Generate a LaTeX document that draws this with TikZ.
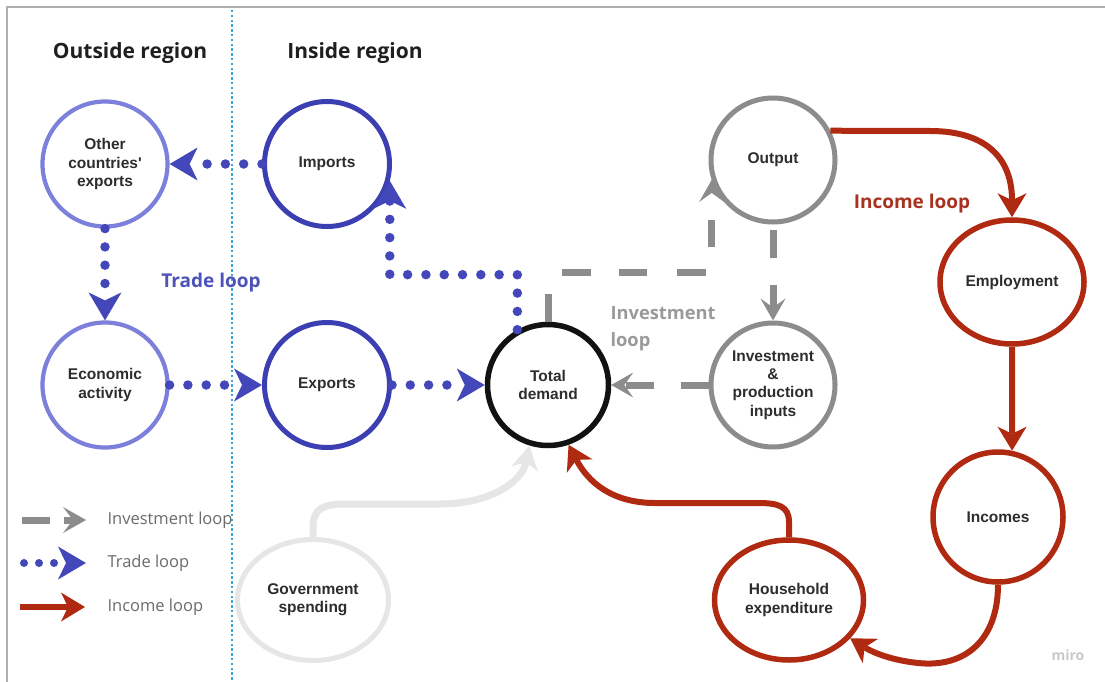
\documentclass[tikz,border=0pt]{standalone}
\usepackage{fontspec}
\setmainfont{Liberation Sans}
\newfontfamily\nodefont{Liberation Sans}
\newfontfamily\osans{Open Sans}
\usetikzlibrary{arrows.meta,shapes.geometric}
\definecolor{dblue}{HTML}{3B3FB1}
\definecolor{lblue}{HTML}{7C80DA}
\definecolor{tblue}{HTML}{4347B9}
\definecolor{igray}{HTML}{8C8C8C}
\definecolor{ired}{HTML}{B02A12}
\definecolor{govc}{HTML}{E6E6E6}
\definecolor{divc}{HTML}{3DA3DB}
\definecolor{txt}{HTML}{2D2D2D}
\definecolor{tradetxt}{HTML}{4C52B8}
\definecolor{inctxt}{HTML}{A83220}
\definecolor{invtxt}{HTML}{9A9A9A}
\definecolor{legtxt}{HTML}{6B6B6B}
\definecolor{miroc}{HTML}{C8C8C8}
\definecolor{framec}{HTML}{B0B0B0}
\begin{document}
\begin{tikzpicture}[x=1pt,y=-1pt,
  circ/.style={circle,draw,minimum size=125pt,inner sep=0pt,line width=5pt,
    font=\nodefont\bfseries\fontsize{15.5}{18.3}\selectfont,text=txt,align=center},
  ell/.style={ellipse,draw,inner sep=0pt,line width=5.5pt,
    font=\nodefont\bfseries\fontsize{15.5}{18.3}\selectfont,text=txt,align=center},
  heading/.style={font=\osans\bfseries\fontsize{21}{25}\selectfont,text=black!88},
  looplabel/.style={font=\osans\bfseries\fontsize{19}{27}\selectfont},
  legtext/.style={font=\osans\fontsize{16.5}{20}\selectfont,text=legtxt,anchor=west},
  tradeline/.style={draw=tblue,line width=9.5pt,line cap=round,dash pattern=on 0pt off 18.3pt,
    -{Stealth[length=28pt,width=33pt,inset=8pt,line width=0pt]}},
  invline/.style={draw=igray,line width=7pt,dash pattern=on 28pt off 27pt,
    -{Stealth[length=22pt,width=25pt,inset=9pt,line width=0pt]}},
  incline/.style={draw=ired,line width=6pt,
    -{Stealth[length=24pt,width=29pt,inset=7pt,line width=0pt]}},
  govline/.style={draw=govc,line width=7pt,
    -{Stealth[length=24pt,width=27pt,inset=7pt,line width=0pt]}}
]
\useasboundingbox (0,0) rectangle (1105,682);
\fill[white] (0,0) rectangle (1105,682);
% frame (top and left only)
\draw[framec,line width=1.5pt] (7,682) -- (7,7) -- (1105,7);
% divider
\draw[divc,line width=2.6pt,dash pattern=on 2.4pt off 2.4pt] (232,10) -- (232,682);

% headings
\node[heading] (h1) at (130,53) {Outside region};
\node[heading] (h2) at (355,53) {Inside region};

% nodes
\node[circ,draw=lblue,line width=4.2pt] (oth) at (105,164) {Other\\countries'\\exports};
\node[circ,draw=dblue] (imp) at (327,164) {Imports};
\node[circ,draw=lblue,line width=4.2pt] (eco) at (105,385) {Economic\\activity};
\node[circ,draw=dblue] (exp) at (327,385) {Exports};
\node[circ,draw=black!93,minimum size=121pt,line width=5.5pt] (td) at (548,385) {Total\\demand};
\node[circ,draw=igray,minimum size=124pt] (out) at (773,160) {Output};
\node[circ,draw=igray,minimum size=124pt] (inv) at (773,385) {Investment\\\&\\production\\inputs};
\node[ell,draw=ired,minimum width=144pt,minimum height=124pt] (emp) at (1012,282) {Employment};
\node[circ,draw=ired,line width=5.5pt,minimum size=130pt] (inc) at (998,517) {Incomes};
\node[ell,draw=ired,minimum width=149pt,minimum height=120pt] (hh) at (789,600) {Household\\expenditure};
\node[ell,draw=govc,line width=5pt,minimum width=151pt,minimum height=121pt] (gov) at (313,600) {Government\\spending};

% loop labels
\node[looplabel,text=tradetxt] (tl) at (211,283) {Trade loop};
\node[looplabel,text=inctxt] (il) at (912,204) {Income loop};
\node[looplabel,text=invtxt,align=left,anchor=north west,font=\osans\bfseries\fontsize{18.3}{27}\selectfont] (vl) at (607,303) {Investment\\loop};

% trade loop
\draw[tradeline] (imp.west) -- (oth.east);
\draw[tradeline] (oth.south) -- (eco.north);
\draw[tradeline] (eco.east) -- (exp.west);
\draw[tradeline] (exp.east) -- (td.west);
\draw[tradeline] (td.119) -- ++(0,-55) -| (imp.-15);

% investment loop
\draw[invline,dash pattern=on 28pt off 35pt on 29pt off 28pt on 28pt off 30pt on 29pt off 31pt on 27pt off 80pt]
  (td.north) -- ++(0,-49) -| (out.198);
\draw[invline,dash phase=-5pt] (out.south) -- (inv.north);
\draw[invline] (inv.west) -- (td.east);

% income loop
\draw[incline] (out.27) -- (930,131) .. controls (988,131) and (1012,160) .. (emp.north);
\draw[incline] (emp.south) -- (inc.78);
\draw[incline] (inc.south) .. controls (998,640) and (965,668) .. (918,663)
   .. controls (890,660) and (872,652) .. (hh.-32);
\draw[incline] (hh.north) -- (789,522) .. controls (789,506) and (778,503) .. (758,503)
   -- (655,503) .. controls (612,503) and (588,482) .. (td.-71);

% government
\draw[govline] (gov.north) -- (313,527) .. controls (313,508) and (324,504) .. (345,504)
   -- (440,504) .. controls (490,504) and (522,482) .. (td.-107);

% legend
\coordinate (l1a) at (22,520); \coordinate (l1b) at (86,520);
\coordinate (l2a) at (24,563); \coordinate (l2b) at (86,563);
\coordinate (l3a) at (20,607); \coordinate (l3b) at (85,607);
\draw[invline,dash pattern=on 28pt off 14pt,-{Stealth[length=23pt,width=26pt,inset=10pt,line width=0pt]}] (l1a) -- (l1b);
\draw[tradeline,dash pattern=on 0pt off 15pt,line width=8pt] (l2a) -- (l2b);
\draw[incline,-{Stealth[length=24pt,width=29pt,inset=7pt,line width=0pt]}] (l3a) -- (l3b);
\node[legtext] (t1) at (104,520) {Investment loop};
\node[legtext] (t2) at (104,563) {Trade loop};
\node[legtext] (t3) at (104,607) {Income loop};

% watermark
\node[text=miroc,font=\osans\bfseries\fontsize{14}{14}\selectfont] (miro) at (1068,655) {miro};
\end{tikzpicture}
\end{document}
